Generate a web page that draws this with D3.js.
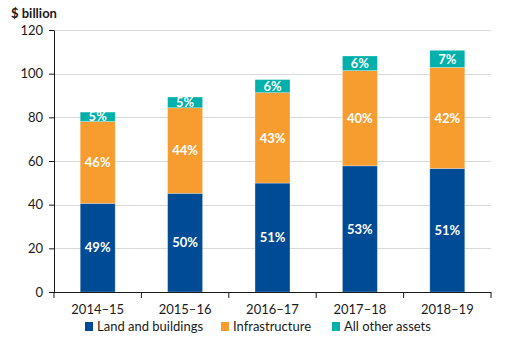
<!DOCTYPE html>
<html lang="en">
<head>
<meta charset="UTF-8" />
<title>Assets by class</title>
<script src="https://d3js.org/d3.v7.min.js"></script>
<style>
  body { margin: 0; background: #fff; font-family: Lato, "Open Sans", sans-serif; }
  svg { display: block; }
  .grid line { stroke: #d9d9d9; stroke-width: 1px; }
  .axis text { font-size: 13px; fill: #1a1a1a; font-family: Lato, sans-serif; }
  .axis path, .axis line { stroke: #1a1a1a; }
  .pct { fill: #fff; font-weight: bold; font-size: 13px; text-anchor: middle; }
  .legend text { font-size: 13px; fill: #1a1a1a; }
</style>
</head>
<body>
<svg width="516" height="354"></svg>
<script>
  const width = 516, height = 354;

  const years = ["2014–15", "2015–16", "2016–17", "2017–18", "2018–19"];
  const series = ["Land and buildings", "Infrastructure", "All other assets"];
  const land = [40.6, 45.2, 49.9, 57.8, 56.6];
  const infra = [37.5, 39.2, 41.4, 43.6, 46.3];
  const other = [4.3, 4.9, 6.0, 6.7, 7.8];
  const landPct = ["49%", "50%", "51%", "53%", "51%"];
  const infraPct = ["46%", "44%", "43%", "40%", "42%"];
  const otherPct = ["5%", "5%", "6%", "6%", "7%"];
  const yTicks = [0, 20, 40, 60, 80, 100, 120];

  const colors = ["#004b96", "#f79d2f", "#00b0aa"];

  const margin = {top: 30, right: 25, bottom: 62, left: 54};

  const rows = years.map((y, i) => ({
    year: y,
    "Land and buildings": land[i],
    "Infrastructure": infra[i],
    "All other assets": other[i],
    pct: [landPct[i], infraPct[i], otherPct[i]]
  }));

  const stacked = d3.stack().keys(series)(rows);

  const x = d3.scaleBand()
    .domain(years)
    .range([margin.left, width - margin.right])
    .paddingInner(0.6)
    .paddingOuter(0.3);

  const y = d3.scaleLinear()
    .domain([0, 120])
    .range([height - margin.bottom, margin.top]);

  const svg = d3.select("svg");

  // gridlines
  svg.append("g")
    .attr("class", "grid")
    .selectAll("line")
    .data(yTicks.filter(d => d > 0))
    .join("line")
    .attr("x1", margin.left)
    .attr("x2", width - margin.right)
    .attr("y1", d => Math.round(y(d)) + 0.5)
    .attr("y2", d => Math.round(y(d)) + 0.5);

  // bars
  svg.append("g")
    .selectAll("g")
    .data(stacked)
    .join("g")
    .attr("fill", (d, i) => colors[i])
    .selectAll("rect")
    .data(d => d)
    .join("rect")
    .attr("x", d => x(d.data.year))
    .attr("width", x.bandwidth())
    .attr("y", d => y(d[1]))
    .attr("height", d => y(d[0]) - y(d[1]))
    .attr("stroke", "#ffffff")
    .attr("stroke-opacity", 0.35)
    .attr("stroke-width", 0.8);

  // percentage labels
  stacked.forEach((s, si) => {
    svg.append("g")
      .selectAll("text")
      .data(s)
      .join("text")
      .attr("class", "pct")
      .attr("x", d => x(d.data.year) + x.bandwidth() / 2)
      .attr("y", d => y((d[0] + d[1]) / 2))
      .attr("dy", "0.36em")
      .text(d => d.data.pct[si]);
  });

  // y axis
  const yAxis = svg.append("g")
    .attr("class", "axis")
    .attr("transform", `translate(${margin.left},0)`)
    .call(d3.axisLeft(y).tickValues(yTicks).tickSize(5).tickSizeOuter(0));
  yAxis.selectAll("text").attr("x", -11);

  // x axis: ticks at band boundaries
  const x0 = height - margin.bottom;
  const xa = svg.append("g").attr("class", "axis");
  xa.append("line")
    .attr("x1", margin.left).attr("x2", width - margin.right)
    .attr("y1", x0 + 0.5).attr("y2", x0 + 0.5);
  const bounds = d3.range(years.length + 1).map(i => margin.left + i * (width - margin.left - margin.right) / years.length);
  xa.selectAll("line.tk")
    .data(bounds)
    .join("line")
    .attr("class", "tk")
    .attr("x1", d => d).attr("x2", d => d)
    .attr("y1", x0).attr("y2", x0 + 6);
  xa.selectAll("text")
    .data(years)
    .join("text")
    .attr("x", d => x(d) + x.bandwidth() / 2)
    .attr("y", x0 + 22)
    .attr("text-anchor", "middle")
    .text(d => d);

  // unit title
  svg.append("text")
    .attr("x", 11)
    .attr("y", 18)
    .attr("font-weight", "bold")
    .attr("font-size", 13)
    .attr("fill", "#1a1a1a")
    .text("$ billion");

  // legend
  const legendX = [85, 221, 332];
  const lg = svg.append("g").attr("class", "legend")
    .selectAll("g")
    .data(series)
    .join("g")
    .attr("transform", (d, i) => `translate(${legendX[i]},321)`);
  lg.append("rect")
    .attr("width", 8).attr("height", 9).attr("y", 1)
    .attr("fill", (d, i) => colors[i]);
  lg.append("text")
    .attr("x", 12)
    .attr("y", 10)
    .text(d => d);
</script>
</body>
</html>
